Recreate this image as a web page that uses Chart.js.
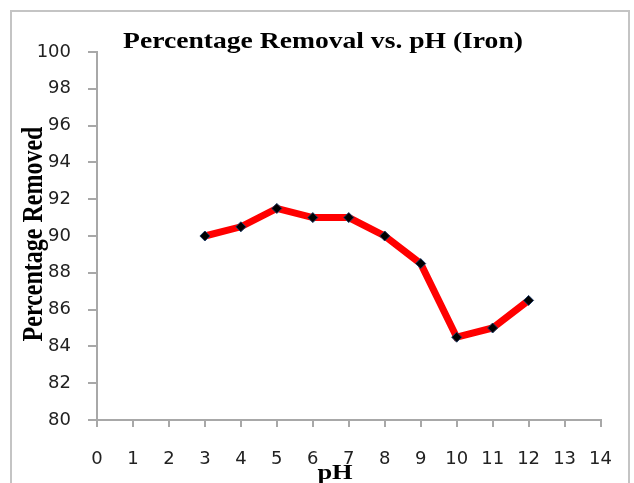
<!DOCTYPE html>
<html>
<head>
<meta charset="utf-8">
<script src="https://cdn.jsdelivr.net/npm/chart.js@4.4.1/dist/chart.umd.min.js"></script>
<style>
  html, body { margin: 0; padding: 0; background: #fff; }
  #wrap { position: absolute; left: 0; top: 0; width: 634px; height: 483px; }
</style>
</head>
<body>
<div id="wrap"><canvas id="c" width="634" height="483"></canvas></div>
<script>
const chartTitle = 'Percentage Removal vs. pH (Iron)';
const xTitle = 'pH';
const yTitle = 'Percentage Removed';
const phValues = [3, 4, 5, 6, 7, 8, 9, 10, 11, 12];
const removalValues = [90, 90.5, 91.5, 91, 91, 90, 88.5, 84.5, 85, 86.5];
const xRange = [0, 14];
const yRange = [80, 100];

const points = phValues.map((x, i) => ({ x: x, y: removalValues[i] }));

const decor = {
  id: 'decor',
  beforeDraw(chart) {
    const ctx = chart.ctx;
    ctx.save();
    ctx.fillStyle = '#fff';
    ctx.fillRect(0, 0, chart.width, chart.height);
    ctx.strokeStyle = '#c4c4c4';
    ctx.lineWidth = 2;
    ctx.strokeRect(11, 11, 618, 490);
    ctx.restore();
  },
  afterDraw(chart) {
    const ctx = chart.ctx;
    const sx = 1.2;
    ctx.save();
    ctx.fillStyle = '#000';
    ctx.textAlign = 'center';
    ctx.textBaseline = 'alphabetic';
    // chart title
    ctx.save();
    ctx.translate(323, 48);
    ctx.scale(sx, 1);
    ctx.font = 'bold 23px "Liberation Serif", serif';
    ctx.fillText(chartTitle, 0, 0);
    ctx.restore();
    // x title
    ctx.save();
    ctx.translate(335, 479);
    ctx.scale(sx, 1);
    ctx.font = 'bold 22px "Liberation Serif", serif';
    ctx.fillText(xTitle, 0, 0);
    ctx.restore();
    // y title
    ctx.save();
    ctx.translate(42, 234);
    ctx.scale(sx, 1);
    ctx.rotate(-Math.PI / 2);
    ctx.font = 'bold 24px "Liberation Serif", serif';
    ctx.fillText(yTitle, 0, 0);
    ctx.restore();
    ctx.restore();
  }
};

new Chart(document.getElementById('c'), {
  type: 'line',
  data: {
    datasets: [{
      data: points,
      borderColor: '#ff0000',
      borderWidth: 7,
      pointStyle: 'rectRot',
      pointRadius: 5,
      pointBackgroundColor: '#000',
      pointBorderColor: '#1e3a64',
      pointBorderWidth: 1,
      tension: 0,
      fill: false
    }]
  },
  options: {
    responsive: false,
    animation: false,
    events: [],
    layout: { padding: { left: 0, right: 33, top: 52, bottom: 0 } },
    plugins: { legend: { display: false }, title: { display: false }, tooltip: { enabled: false } },
    scales: {
      x: {
        type: 'linear',
        min: xRange[0],
        max: xRange[1],
        afterFit(scale) { scale.height = 63; },
        ticks: { stepSize: 1, padding: 22, color: '#222', font: { family: '"DejaVu Sans"', size: 18 }, maxRotation: 0, autoSkip: false },
        grid: { drawOnChartArea: false, drawTicks: true, tickLength: 7, color: '#a8a8a8', lineWidth: 2 },
        border: { color: '#a8a8a8', width: 2 }
      },
      y: {
        min: yRange[0],
        max: yRange[1],
        afterFit(scale) { scale.width = 97; },
        ticks: { stepSize: 2, padding: 17, color: '#222', font: { family: '"DejaVu Sans"', size: 18 } },
        grid: { drawOnChartArea: false, drawTicks: true, tickLength: 9, color: '#a8a8a8', lineWidth: 2 },
        border: { color: '#a8a8a8', width: 2 }
      }
    }
  },
  plugins: [decor]
});
</script>
</body>
</html>
